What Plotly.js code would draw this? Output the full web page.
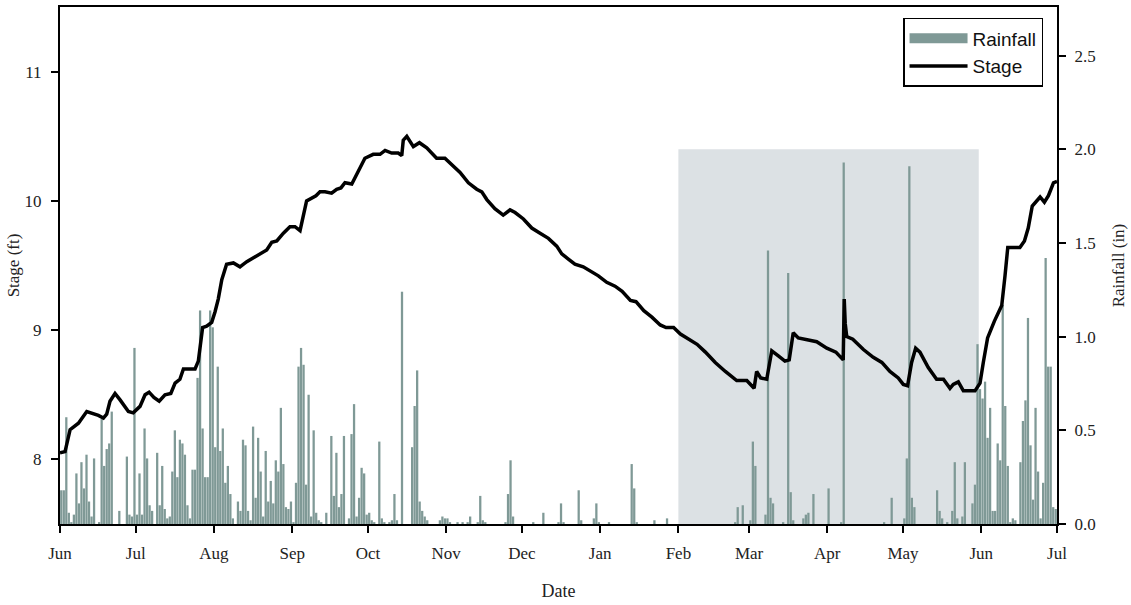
<!DOCTYPE html>
<html>
<head>
<meta charset="utf-8">
<script src="https://cdn.plot.ly/plotly-3.0.1.min.js"></script>
<style>
html,body{margin:0;padding:0;background:#fff;}
#chart{width:1131px;height:605px;}
</style>
</head>
<body>
<div id="chart"></div>
<script>
// Daily rainfall (in), one value per day, Jun 2006 .. Jun 2007
const rainJun06 = [0.18,0.18,0.57,0.06,0.01,0.05,0.27,0.11,0.33,0.19, 0.37,0.12,0.04,0.35,0.00,0.01,0.56,0.31,0.40,0.43, 0.60,0.00,0.00,0.07,0.00,0.00,0.36,0.05,0.04,0.94];
const rainJul06 = [0.05,0.27,0.05,0.51,0.35,0.10,0.07,0.00,0.38,0.10, 0.31,0.08,0.03,0.04,0.28,0.50,0.25,0.45,0.43,0.37, 0.10,0.03,0.29,0.29,0.78,1.14,0.51,0.25,0.25,1.14, 1.05];
const rainAug06 = [0.41,0.84,0.39,0.51,0.22,0.31,0.16,0.03,0.00,0.12, 0.07,0.45,0.42,0.07,0.02,0.52,0.14,0.46,0.28,0.04, 0.39,0.12,0.23,0.11,0.34,0.28,0.62,0.32,0.09,0.08, 0.12];
const rainSep06 = [0.01,0.22,0.84,0.94,0.85,0.21,0.69,0.04,0.50,0.06, 0.02,0.01,0.00,0.06,0.00,0.47,0.15,0.38,0.09,0.16, 0.47,0.00,0.03,0.48,0.64,0.04,0.14,0.30,0.27,0.05];
const rainOct06 = [0.06,0.02,0.01,0.00,0.44,0.03,0.01,0.00,0.01,0.02, 0.16,0.02,0.00,1.24,0.00,0.00,0.00,0.41,0.63,0.82, 0.12,0.07,0.04,0.02,0.00,0.00,0.00,0.00,0.02,0.04, 0.03];
const rainNov06 = [0.03,0.01,0.00,0.00,0.01,0.00,0.01,0.00,0.01,0.04, 0.00,0.00,0.01,0.15,0.02,0.01,0.00,0.00,0.00,0.00, 0.00,0.00,0.00,0.01,0.16,0.34,0.04,0.00,0.00,0.00];
const rainDec06 = [0.00,0.00,0.00,0.00,0.01,0.00,0.00,0.00,0.06,0.00, 0.00,0.00,0.00,0.00,0.01,0.11,0.01,0.00,0.00,0.00, 0.00,0.00,0.18,0.02,0.00,0.00,0.00,0.00,0.03,0.11, 0.01];
const rainJan07 = [0.00,0.00,0.00,0.01,0.00,0.00,0.00,0.00,0.00,0.00, 0.00,0.00,0.32,0.19,0.01,0.00,0.00,0.00,0.00,0.00, 0.00,0.02,0.00,0.00,0.00,0.00,0.03,0.00,0.00,0.00, 0.00];
const rainFeb07 = [0.00,0.00,0.00,0.00,0.00,0.00,0.00,0.00,0.00,0.00, 0.00,0.00,0.00,0.00,0.00,0.00,0.00,0.00,0.00,0.00, 0.00,0.00,0.01,0.09,0.00,0.10,0.00,0.00];
const rainMar07 = [0.02,0.44,0.31,0.00,0.00,0.00,0.05,1.46,0.14,0.11, 0.00,0.00,0.00,0.01,0.00,1.34,0.17,0.02,0.00,0.00, 0.00,0.03,0.05,0.06,0.00,0.16,0.00,0.00,0.00,0.00, 0.00];
const rainApr07 = [0.19,0.00,0.00,0.00,0.00,0.01,1.93,0.00,0.00,0.00, 0.00,0.00,0.00,0.00,0.00,0.00,0.00,0.00,0.00,0.00, 0.00,0.00,0.01,0.00,0.00,0.14,0.00,0.00,0.00,0.00];
const rainMay07 = [0.03,0.35,1.91,0.14,0.09,0.00,0.00,0.00,0.00,0.00, 0.00,0.00,0.00,0.18,0.07,0.03,0.00,0.01,0.00,0.07, 0.33,0.03,0.00,0.04,0.33,0.00,0.00,0.11,0.21,0.96, 0.72];
const rainJun07 = [0.67,0.76,0.46,0.62,0.07,0.07,0.43,0.34,1.17,0.63, 0.31,0.01,0.03,0.02,0.00,0.33,0.55,0.66,1.10,0.42, 0.13,0.62,0.28,0.03,0.22,1.42,0.84,0.84,0.09,0.08];

// Stage (ft): day of record (days since 1 Jun 2006) and stage value
const stageDay = [0,2.0,4.0,5.9,7.3,10.6,12.6,15.2,17.2,18.5,19.8,21.8,23.8,27.1,29.0,31.7,33.7,35.3,37.2,39.3,
  41.6,43.9,45.6,47.5,48.9,51.2,53.5,54.8,56.5,58.1,60.1,61.4,62.7,64.1,66.0,68.7,71.3,74.0,76.6,79.2,
  81.9,83.9,85.9,88.5,91.1,93.1,95.1,97.7,99.7,101.4,103.0,105.0,107.6,109.6,111.3,112.9,115.6,118.2,120.8,124.1,
  126.8,128.8,131.4,134.0,135.4,136.0,137.4,140.0,142.4,145.3,149.2,152.5,155.2,158.5,161.8,165.1,167.1,169.1,172.3,175.6,
  178.3,180.3,183.6,186.9,190.2,193.5,196.8,198.8,201.4,204.0,207.3,210.0,213.3,216.6,219.9,222.7,226.0,228.2,231.3,234.5,
  237.8,240.1,243.1,245.8,249.1,252.4,255.7,259.6,263.6,266.2,268.1,272.1,273.4,275.0,276.0,277.6,280.0,282.0,284.6,287.2,
  288.9,290.5,292.5,296.5,299.8,303.8,307.4,310.3,310.7,311.1,311.7,314.1,318.3,322.2,325.6,328.8,332.1,334.1,335.8,337.4,
  339.0,340.7,344.0,347.3,350.0,352.6,353.9,355.9,357.9,362.5,364.5,365.8,367.5,370.2,373.1,374.4,375.5,377.3,380.3,382.1,
  383.6,385.2,388.3,390.0,391.6,393.6,395.0];
const stageFt = [8.05,8.06,8.23,8.26,8.28,8.37,8.36,8.34,8.32,8.35,8.45,8.51,8.46,8.37,8.36,8.41,8.50,8.52,8.48,8.45,
  8.50,8.51,8.59,8.62,8.70,8.70,8.70,8.76,9.02,9.03,9.06,9.14,9.24,9.39,9.51,9.52,9.49,9.53,9.56,9.59,
  9.62,9.68,9.69,9.75,9.80,9.80,9.77,10.00,10.02,10.04,10.07,10.07,10.06,10.09,10.10,10.14,10.13,10.23,10.33,10.36,
  10.36,10.39,10.37,10.37,10.35,10.47,10.50,10.42,10.45,10.41,10.33,10.33,10.28,10.22,10.14,10.09,10.07,10.01,9.94,9.89,
  9.93,9.91,9.86,9.79,9.75,9.71,9.65,9.59,9.55,9.51,9.49,9.46,9.42,9.37,9.34,9.30,9.23,9.22,9.15,9.10,
  9.04,9.02,9.02,8.97,8.93,8.89,8.83,8.75,8.68,8.64,8.61,8.61,8.58,8.55,8.68,8.63,8.62,8.84,8.80,8.76,
  8.77,8.98,8.94,8.92,8.91,8.86,8.83,8.77,9.24,9.05,8.95,8.93,8.85,8.79,8.75,8.68,8.63,8.58,8.57,8.75,
  8.86,8.83,8.71,8.62,8.62,8.55,8.58,8.60,8.53,8.53,8.59,8.75,8.94,9.07,9.19,9.42,9.64,9.64,9.64,9.69,
  9.79,9.96,10.03,9.99,10.04,10.14,10.15];

// Shaded period
const shadeStart = '2007-02-01';
const shadeEnd = '2007-05-31';
const shadeTop = 2.0; // in rainfall units

const startMs = Date.UTC(2006, 5, 1);
function fmt(ms) {
  const d = new Date(ms);
  const p = n => String(n).padStart(2, '0');
  return d.getUTCFullYear() + '-' + p(d.getUTCMonth() + 1) + '-' + p(d.getUTCDate()) + ' ' +
         p(d.getUTCHours()) + ':' + p(d.getUTCMinutes());
}
const rain = [].concat(rainJun06, rainJul06, rainAug06, rainSep06, rainOct06, rainNov06, rainDec06,
                       rainJan07, rainFeb07, rainMar07, rainApr07, rainMay07, rainJun07);
const rainX = rain.map((v, i) => fmt(startMs + (i + 0.5) * 864e5));
const stageX = stageDay.map(d => fmt(startMs + d * 864e5));

const serif = 'Liberation Serif, Times New Roman, serif';
const sans = 'Liberation Sans, Arial, sans-serif';
const barColor = '#7f9996';

const traces = [
  {
    type: 'bar', name: 'Rainfall', x: rainX, y: rain, yaxis: 'y', xaxis: 'x',
    marker: {color: barColor, line: {width: 0}}, showlegend: false
  },
  {
    // legend entry for the rainfall bars (wide swatch, no data drawn)
    type: 'scatter', mode: 'lines', name: 'Rainfall', x: [null], y: [null], yaxis: 'y', xaxis: 'x',
    line: {color: barColor, width: 15}, hoverinfo: 'skip'
  },
  {
    type: 'scatter', mode: 'lines', name: 'Stage', x: stageX, y: stageFt, yaxis: 'y2', xaxis: 'x',
    line: {color: '#000000', width: 3.5}
  }
];

const axisCommon = {
  ticks: 'outside', ticklen: 7, tickwidth: 2, tickcolor: '#000',
  showline: true, linecolor: '#000', linewidth: 2,
  showgrid: false, zeroline: false,
  tickfont: {family: serif, size: 17, color: '#222'}
};

const layout = {
  width: 1131, height: 605,
  margin: {l: 60, r: 74, t: 7, b: 81},
  paper_bgcolor: '#fff', plot_bgcolor: '#fff',
  font: {family: serif, size: 16, color: '#222'},
  showlegend: true,
  bargap: 0.1,
  legend: {
    x: 0.986, y: 0.979, xanchor: 'right', yanchor: 'top',
    bordercolor: '#000', borderwidth: 1.5, bgcolor: '#fff',
    font: {family: sans, size: 19, color: '#111'},
    itemwidth: 58, tracegroupgap: 0
  },
  xaxis: Object.assign({}, axisCommon, {
    type: 'date', range: ['2006-06-01', '2007-07-01'],
    tickformat: '%b', dtick: 'M1', tick0: '2006-06-01', mirror: true,
    ticklabelstandoff: 6,
    title: {text: 'Date', font: {family: serif, size: 18, color: '#222'}, standoff: 22}
  }),
  yaxis: Object.assign({}, axisCommon, {
    side: 'right', range: [0, 2.76], dtick: 0.5, tick0: 0, tickformat: '.1f',
    ticklabelstandoff: 5,
    title: {text: 'Rainfall (in)', font: {family: serif, size: 17, color: '#222'}, standoff: 17}
  }),
  yaxis2: Object.assign({}, axisCommon, {
    side: 'left', overlaying: 'y', range: [7.5, 11.5], dtick: 1, tick0: 8,
    ticklabelstandoff: 6,
    title: {text: 'Stage (ft)', font: {family: serif, size: 17, color: '#222'}, standoff: 1}
  }),
  shapes: [{
    type: 'rect', layer: 'below', xref: 'x', yref: 'y',
    x0: shadeStart, x1: shadeEnd, y0: 0, y1: shadeTop,
    fillcolor: '#dce1e4', line: {width: 0}
  }]
};

Plotly.newPlot('chart', traces, layout, {displayModeBar: false, staticPlot: true});
</script>
</body>
</html>
